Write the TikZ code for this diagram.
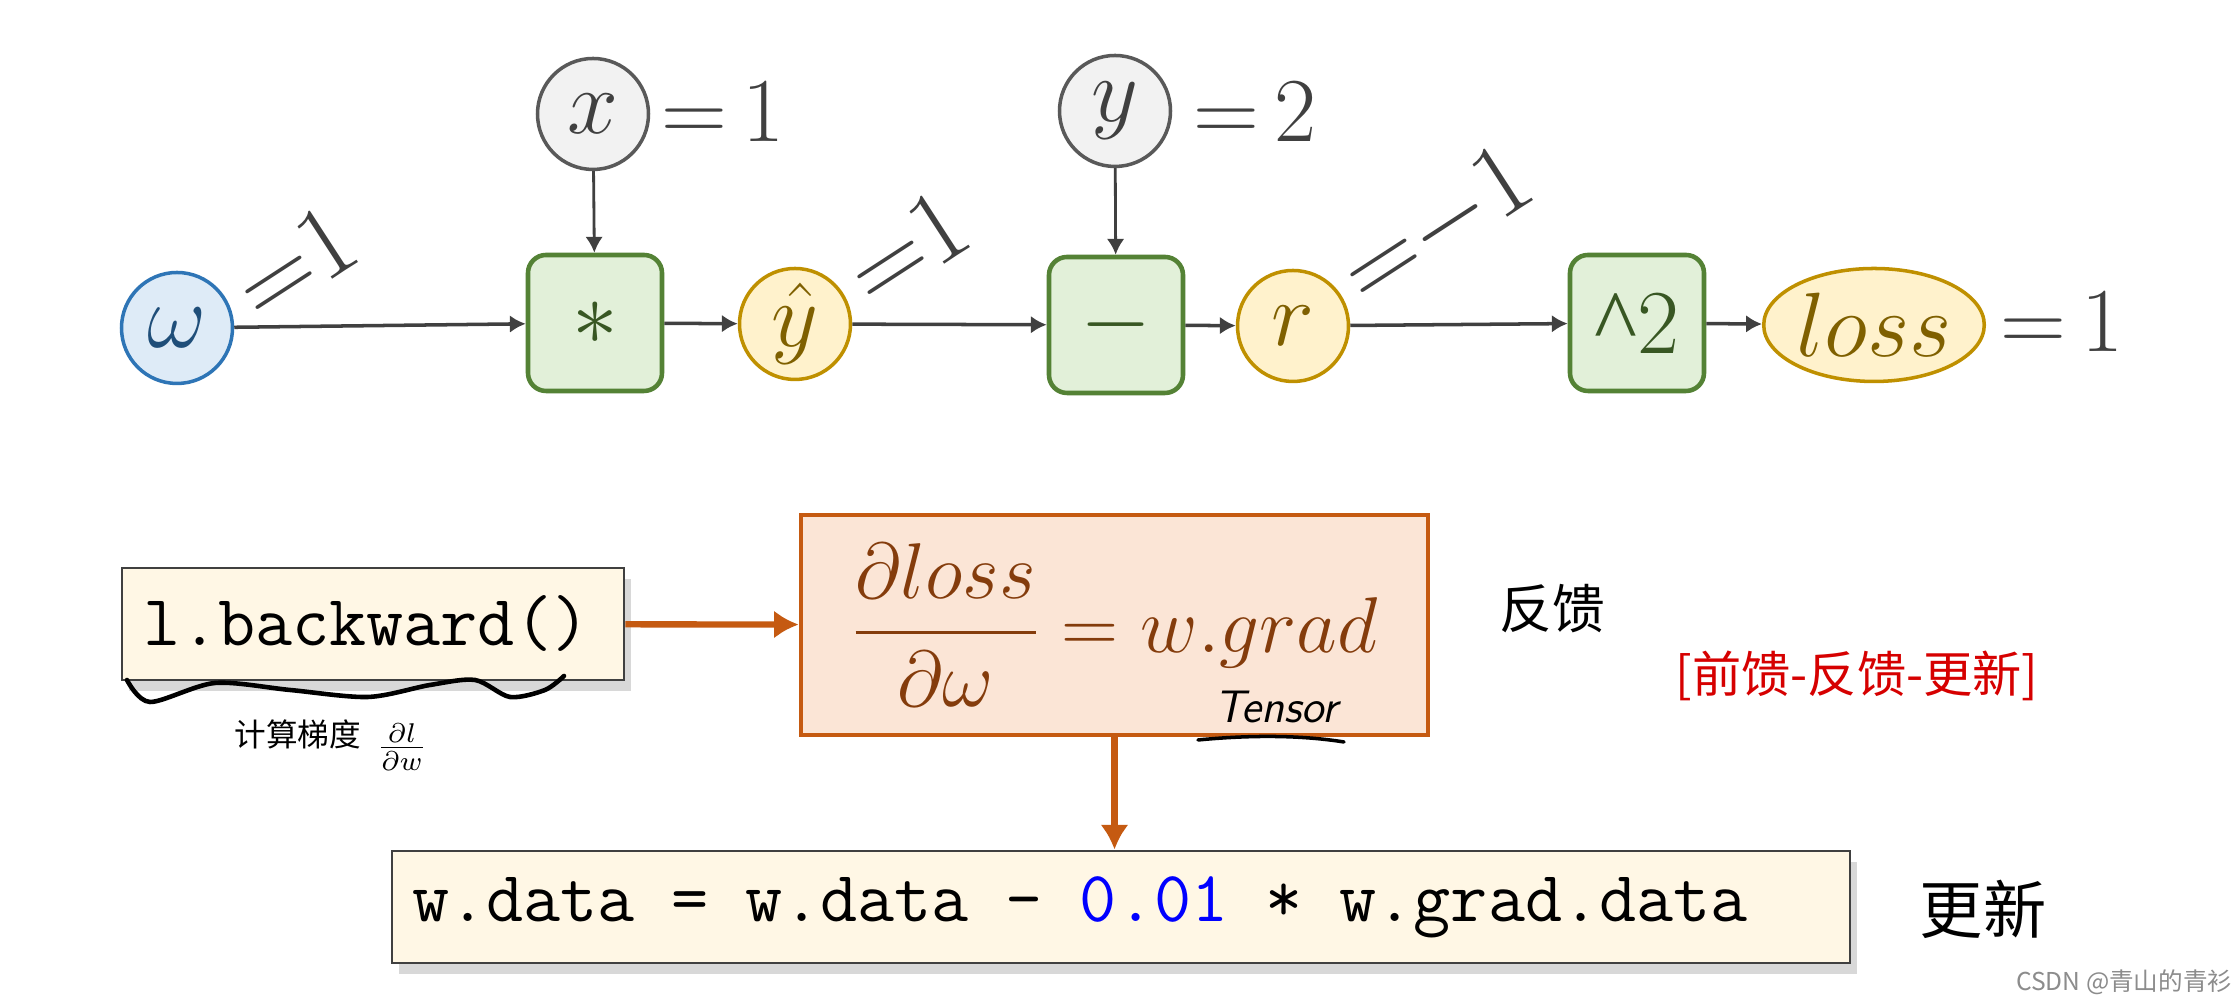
\RequirePackage{fix-cm}
\documentclass[tikz,border=0pt]{standalone}
\usepackage{amsmath}
\usepackage{fontspec}
\newfontfamily\cjk{Noto Sans CJK SC}
\newfontfamily\caretfont{Liberation Serif}
\usepackage{tikz}
\usetikzlibrary{arrows.meta,shadows,shapes.geometric}
\tikzset{>={Latex[length=4.5pt,width=5pt]}}
\newcommand\fixedspaces{\spaceskip=\fontcharwd\font 97\relax\xspaceskip=\spaceskip}

\definecolor{bluefill}{HTML}{DEEBF7}
\definecolor{blueline}{HTML}{2E75B6}
\definecolor{bluetext}{HTML}{1F4E79}
\definecolor{grayfill}{HTML}{F2F2F2}
\definecolor{grayline}{HTML}{595959}
\definecolor{graytext}{HTML}{404040}
\definecolor{greenfill}{HTML}{E2F0D9}
\definecolor{greenline}{HTML}{548235}
\definecolor{greentext}{HTML}{385723}
\definecolor{yellowfill}{HTML}{FFF2CC}
\definecolor{yellowline}{HTML}{BF9000}
\definecolor{yellowtext}{HTML}{7F6000}
\definecolor{orangefill}{HTML}{FBE5D6}
\definecolor{orangeline}{HTML}{C55A11}
\definecolor{browntext}{HTML}{843C0C}
\definecolor{creamfill}{HTML}{FFF7E5}
\definecolor{inkred}{HTML}{D60000}

\begin{document}
\begin{tikzpicture}
                [big/.style={font=\fontsize{26}{31}\selectfont},
                 var/.style={circle,draw=grayline,fill=grayfill,text=graytext,line width=1pt,minimum size=1.11cm,inner sep=0pt,big},
                 param/.style={var,draw=blueline,fill=bluefill,text=bluetext},
                 val/.style={var,draw=yellowline,fill=yellowfill,text=yellowtext},
                 op/.style={rectangle,rounded corners=0.18cm,draw=greenline,fill=greenfill,text=greentext,line width=1.3pt,minimum width=1.34cm,minimum height=1.36cm,inner sep=0pt,big},
                 eq/.style={big,text=graytext,inner sep=0pt},
                 tilted/.style={eq,rotate=33,font=\fontsize{30}{36}\selectfont},
                 flow/.style={->,draw=graytext,line width=1pt},
                 code/.style={rectangle,draw=graytext,fill=creamfill,line width=0.8pt,minimum height=1.12cm,inner ysep=0pt,align=left,
                   drop shadow={shadow xshift=2pt,shadow yshift=-3pt,opacity=0.3},
                   font=\ttfamily\fontsize{20.5}{24}\selectfont,execute at begin node=\fixedspaces},
                 step arrow/.style={-{Latex[length=7pt,width=8pt]},draw=orangeline,line width=1.8pt},
                 hand/.style={text=black,inner sep=0pt}]
                \useasboundingbox[fill=white] (0,0) rectangle (22.39,10);

                % forward graph
                \node[param] (w) at (1.77,6.72) {$\omega$};
                \node[var] (x) at (5.93,8.86) {$x$};
                \node[op] (mul) at (5.95,6.77) {$*$};
                \node[val] (yh) at (7.95,6.76) {$\hat{y}$};
                \node[var] (y) at (11.15,8.89) {$y$};
                \node[op] (sub) at (11.16,6.75) {$-$};
                \node[val] (r) at (12.93,6.74) {$r$};
                \node[op] (sq) at (16.37,6.77) {{\caretfont\textasciicircum}2};
                \node[val,ellipse,minimum width=2.2cm,minimum height=1.13cm] (loss) at (18.74,6.75) {$loss$};

                \node[tilted] (wv) at (2.95,7.37) {${=}1$};
                \node[eq] (xv) at (7.23,8.88) {${=}\,1$};
                \node[tilted] (yhv) at (9.07,7.52) {${=}1$};
                \node[eq] (yv) at (12.55,8.88) {${=}\,2$};
                \node[tilted] (rv) at (14.37,7.72) {${=}{-}1$};
                \node[eq] (lossv) at (20.62,6.78) {${=}\,1$};

                \draw[flow] (w) -- (mul);
                \draw[flow,line width=0.8pt] (x) -- (mul);
                \draw[flow] (mul) -- (yh);
                \draw[flow] (yh) -- (sub);
                \draw[flow,line width=0.8pt] (y) -- (sub);
                \draw[flow] (sub) -- (r);
                \draw[flow] (r) -- (sq);
                \draw[flow] (sq) -- (loss);

                % backward and update
                \node[code,inner xsep=0.22cm,text width=4.58cm] (bwd) at (3.73,3.76) {l.backward()};
                \node[rectangle,draw=orangeline,fill=orangefill,line width=1.3pt,minimum width=6.27cm,minimum height=2.2cm,
                  text=browntext,font=\fontsize{22.5}{27}\selectfont] (grad) at (11.145,3.75)
                  {$\displaystyle\frac{\partial loss}{\partial\omega}=w.grad$};
                \node[code,inner xsep=0.2cm,text width=14.18cm] (upd) at (11.21,0.93)
                  {w.data = w.data - \textcolor{blue}{0.01} * w.grad.data};

                \draw[step arrow] (bwd) -- (grad);
                \draw[step arrow] (grad) -- (grad |- upd.north);

                % handwritten notes
                \draw[line width=1.3pt,line cap=round] plot[smooth] coordinates
                  {(1.27,3.20) (1.50,2.98) (2.15,3.17) (2.90,3.10) (3.68,3.03) (4.30,3.15) (4.75,3.20) (5.10,3.03) (5.45,3.10) (5.64,3.24)};
                \node[hand,font=\cjk\fontsize{9}{11}\selectfont] (note1) at (2.98,2.66) {计算梯度};
                \node[hand,font=\fontsize{11}{12}\selectfont] (note2) at (4.02,2.53) {$\frac{\partial l}{\partial w}$};
                \node[hand,font=\sffamily\itshape\fontsize{13}{15}\selectfont] (tensor) at (12.76,2.93) {Tensor};
                \draw[line width=1pt,line cap=round] (11.98,2.60) .. controls (12.5,2.65) and (13.0,2.65) .. (13.44,2.58);
                \node[hand,font=\cjk\fontsize{15}{18}\selectfont] (fb) at (15.52,3.91) {反馈};
                \node[hand,text=inkred,font=\cjk\fontsize{14}{17}\selectfont] (steps) at (18.57,3.24) {[前馈-反馈-更新]};
                \node[hand,font=\cjk\fontsize{18}{21}\selectfont] (upnote) at (19.83,0.91) {更新};
                \node[hand,anchor=east,text=black!45,font=\cjk\fontsize{7}{8}\selectfont] (mark) at (22.33,0.18) {CSDN @青山的青衫};
            \end{tikzpicture}
\end{document}
